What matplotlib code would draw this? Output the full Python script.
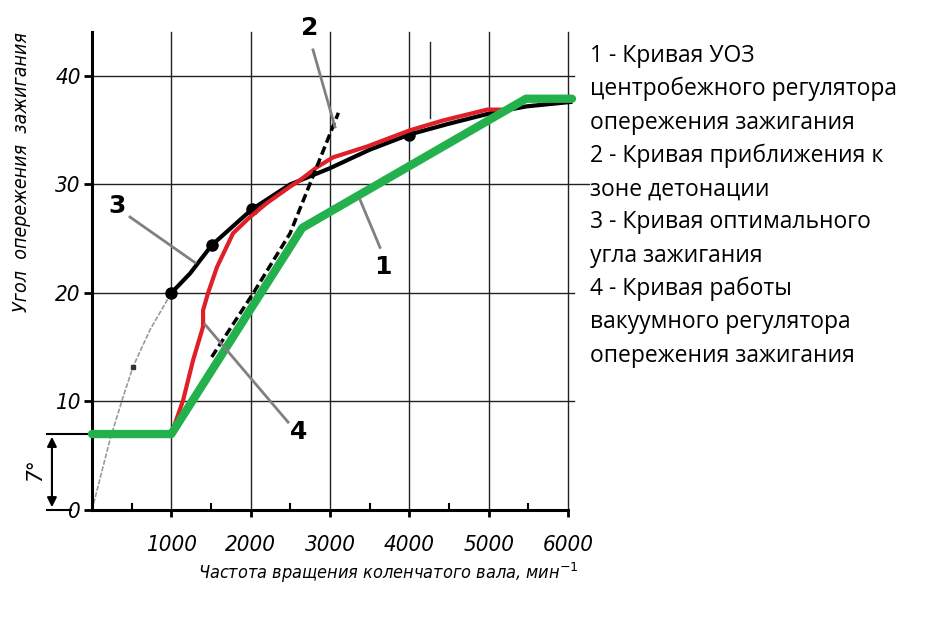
import matplotlib.pyplot as plt

# 1 - кривая центробежного регулятора (зелёная)
rpm_1 = [0, 1000, 2650, 5470, 6050]
deg_1 = [7.0, 7.0, 26.0, 37.9, 37.9]

# 2 - кривая приближения к зоне детонации (пунктир)
rpm_2 = [1509, 2034, 2497, 2854, 3106]
deg_2 = [14.1, 20.0, 25.5, 32.0, 36.6]

# 3 - кривая оптимального угла (чёрная)
rpm_3 = [1000, 1236, 1509, 2014, 2497, 3000, 3500, 4000, 4500, 5040, 5481, 6030]
deg_3 = [20.0, 21.8, 24.4, 27.7, 30.0, 31.5, 33.2, 34.6, 35.6, 36.6, 37.2, 37.6]
rpm_3_pts = [1000, 1509, 2014, 4000]
deg_3_pts = [20.0, 24.4, 27.7, 34.6]

# продолжение кривой 3 к нулю (серая тонкая)
rpm_3a = [0, 227, 391, 517, 731, 1000]
deg_3a = [0.0, 6.5, 10.4, 13.2, 16.6, 20.0]

# 4 - кривая вакуумного регулятора (красная)
rpm_4 = [1000, 1148, 1274, 1400, 1400, 1463, 1576, 1778, 1992, 2207, 2497,
         2623, 2837, 3039, 3468, 4010, 4426, 4981, 5145]
deg_4 = [7.0, 10.1, 13.8, 16.9, 18.4, 20.0, 22.4, 25.5, 27.0, 28.3, 29.8,
         30.4, 31.6, 32.5, 33.5, 35.0, 35.9, 36.9, 36.9]

x_ticks = [1000, 2000, 3000, 4000, 5000, 6000]
y_ticks = [0, 10, 20, 30, 40]

legend_lines = [
    "1 - Кривая УОЗ",
    "центробежного регулятора",
    "опережения зажигания",
    "2 - Кривая приближения к",
    "зоне детонации",
    "3 - Кривая оптимального",
    "угла зажигания",
    "4 - Кривая работы",
    "вакуумного регулятора",
    "опережения зажигания",
]

hand = dict(fontfamily='DejaVu Sans', fontstyle='italic', fontstretch='condensed')

fig = plt.figure(figsize=(9.34, 6.31), dpi=100)
W, H = 934, 631
ax = fig.add_axes([92 / W, 1 - 510 / H, (568 - 92) / W, (510 - 32) / H])
ax.set_xlim(0, 6000)
ax.set_ylim(0, 44.05)

# сетка
for x in x_ticks:
    ax.plot([x, x], [0, 44.05], color='#222222', lw=1.0, zorder=1, clip_on=False)
for y in [10, 20, 40]:
    ax.plot([0, 6080], [y, y], color='#222222', lw=1.0, zorder=1, clip_on=False)
ax.plot([0, 6270], [30, 30], color='#222222', lw=1.0, zorder=1, clip_on=False)
ax.plot([4262, 4262], [36.1, 43.1], color='#222222', lw=1.0, zorder=1)

for s in ['top', 'right']:
    ax.spines[s].set_visible(False)
for s in ['left', 'bottom']:
    ax.spines[s].set_linewidth(2.2)

ax.set_xticks(x_ticks)
ax.set_xticks([500, 1500, 2500, 3500, 4500, 5500], minor=True)
ax.set_yticks(y_ticks)
ax.tick_params(axis='x', which='major', direction='out', length=5, width=2, pad=13)
ax.tick_params(axis='x', which='minor', direction='in', length=5, width=1.5)
ax.tick_params(axis='y', which='major', direction='out', length=6, width=2, pad=2)
for lab in ax.get_xticklabels() + ax.get_yticklabels():
    lab.set(**hand)
    lab.set_fontsize(16)

# кривые
ax.plot(rpm_3a, deg_3a, color='#9a9a9a', lw=1.2, ls=(0, (3, 1)), zorder=2, clip_on=False)
ax.plot([517], [13.2], 's', color='#333333', ms=3, zorder=2)
ax.plot(rpm_3, deg_3, color='black', lw=3, zorder=3, clip_on=False)
ax.plot(rpm_3_pts, deg_3_pts, 'o', color='black', ms=8, zorder=3)
ax.plot(rpm_4, deg_4, color='#e02027', lw=3, zorder=4)
ax.plot(rpm_2, deg_2, color='black', lw=2.5, ls=(0, (2.5, 1.2)), zorder=5)
ax.plot(rpm_1, deg_1, color='#22b14c', lw=6, solid_capstyle='round', zorder=6, clip_on=False)

# выноски
gray = '#808080'
ax.plot([2786, 3063], [42.4, 35.3], color=gray, lw=2, zorder=7, clip_on=False)
ax.plot([479, 1298], [27.0, 22.8], color=gray, lw=2, zorder=7)
ax.plot([3630, 3378], [24.2, 28.6], color=gray, lw=2, zorder=7)
ax.plot([2471, 1424], [8.1, 17.1], color=gray, lw=2, zorder=7)
for txt, x, y in [("2", 2748, 44.4), ("3", 316, 28.0), ("1", 3668, 22.4), ("4", 2610, 7.2)]:
    ax.text(x, y, txt, fontsize=18, fontweight='bold', ha='center', va='center',
            fontfamily='DejaVu Sans', zorder=8, clip_on=False)

# размер 7°
ax.annotate('', xy=(-505, 0), xytext=(-505, 7), annotation_clip=False,
            arrowprops=dict(arrowstyle='<|-|>', color='black', lw=1.5, mutation_scale=14))
ax.plot([-570, 0], [7, 7], color='black', lw=1.5, clip_on=False)
ax.plot([-570, -270], [0, 0], color='black', lw=1.5, clip_on=False)
ax.text(-720, 3.7, '7°', rotation=90, fontsize=16, ha='center', va='center', **hand)

fig.text(22 / W, 1 - 172 / H, 'Угол  опережения  зажигания', rotation=90,
         fontsize=14, ha='center', va='center', **hand)
fig.text(388 / W, 1 - 573 / H, 'Частота вращения коленчатого вала, мин$^{-1}$',
         fontsize=13, ha='center', va='center', **hand)

# подписи справа
for i, line in enumerate(legend_lines):
    fig.text(590 / W, 1 - (56 + i * 33.3) / H, line, fontsize=16.5,
             fontfamily='Open Sans', ha='left', va='center')

fig.savefig('out.png', dpi=100)
